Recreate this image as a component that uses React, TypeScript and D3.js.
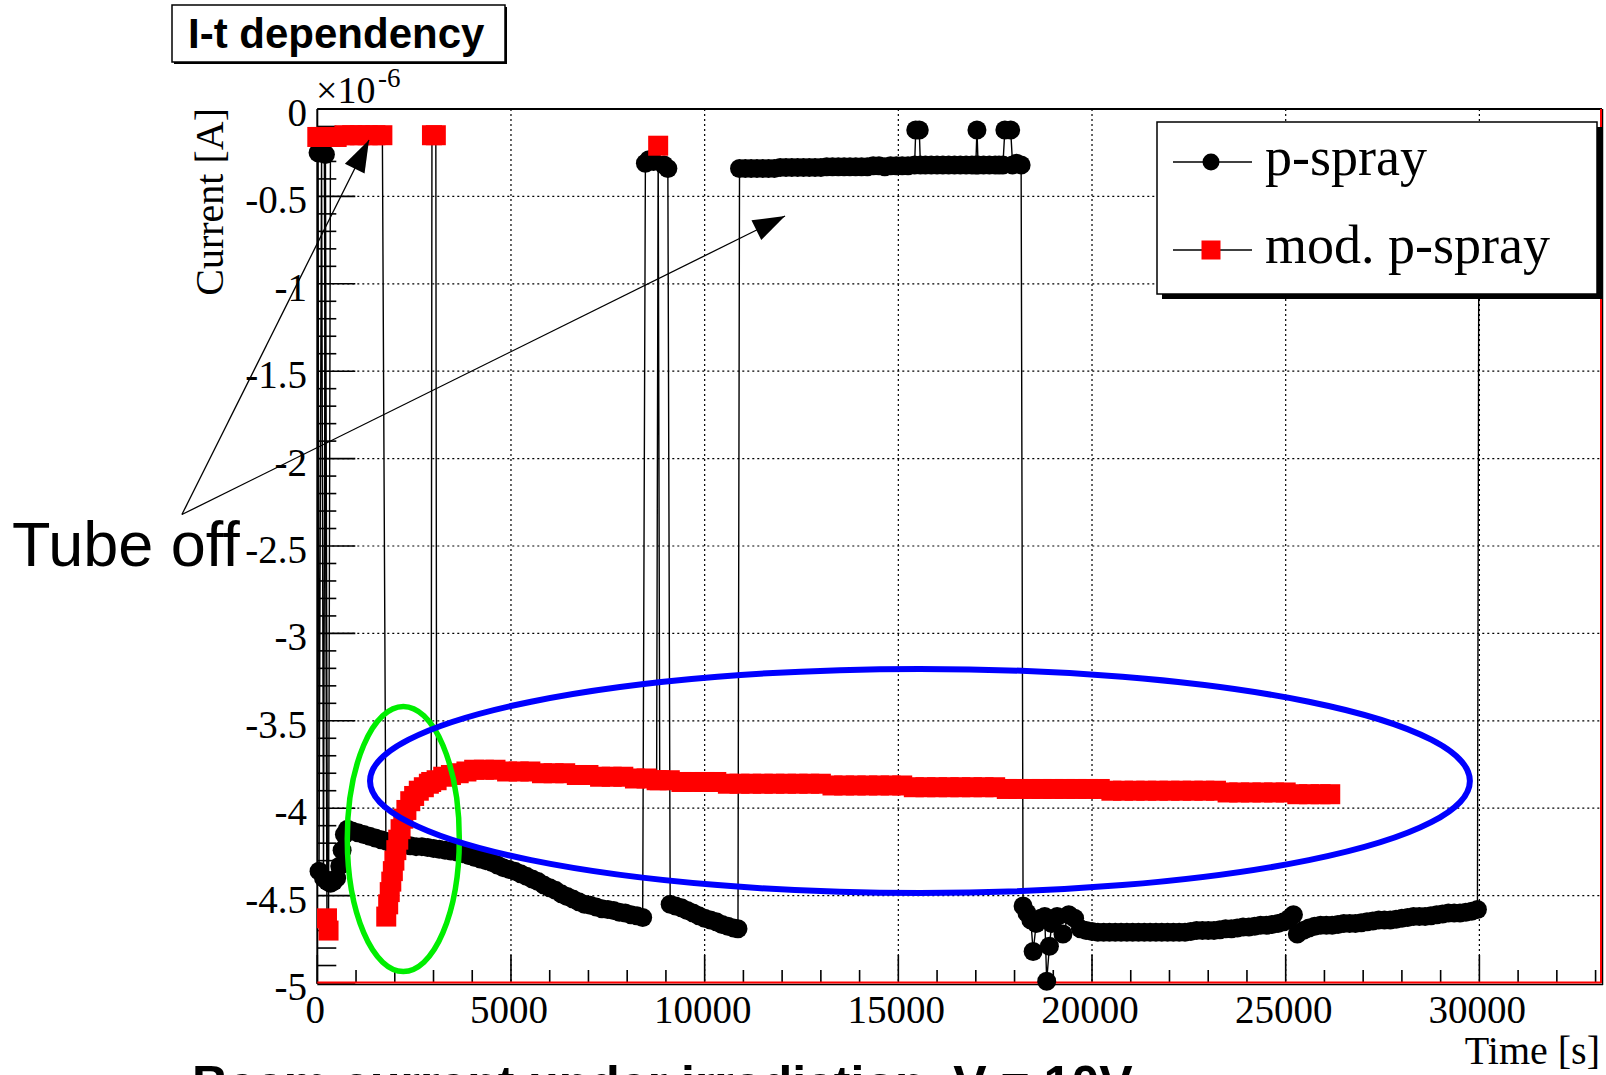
import React from "react";
import * as d3 from "d3";

const W = 1606;
const H = 1075;

// [time (s), current (x1e-6 A)]
const pSprayStart: [number, number][] = [
  [20, -0.25], [45, -4.36], [110, -0.25], [160, -4.4], [210, -0.26], [260, -4.42],
  [340, -4.43], [420, -4.42], [500, -4.4], [580, -4.33], [640, -4.24], [700, -4.15],
  [780, -4.12], [900, -4.13], [1050, -4.14], [1200, -4.15], [1350, -4.16], [1500, -4.17],
  [1650, -4.18], [1800, -4.19], [1950, -4.2], [2100, -4.205], [2250, -4.21], [2400, -4.215],
  [2550, -4.22], [2700, -4.22], [2850, -4.225], [3000, -4.23], [3150, -4.235], [3300, -4.24],
  [3450, -4.245], [3600, -4.25], [3750, -4.26], [3900, -4.27], [4050, -4.28], [4200, -4.29],
  [4350, -4.3], [4500, -4.31], [4650, -4.325], [4800, -4.34], [4950, -4.35], [5100, -4.36],
  [5250, -4.375], [5400, -4.39], [5550, -4.405], [5700, -4.42], [5850, -4.44], [6000, -4.455],
  [6150, -4.47], [6300, -4.49], [6450, -4.505], [6600, -4.52], [6750, -4.535], [6900, -4.55],
  [7050, -4.555], [7200, -4.565], [7350, -4.575], [7500, -4.58], [7650, -4.585], [7800, -4.595],
  [7950, -4.6], [8100, -4.61], [8250, -4.615], [8400, -4.625],
];

const pSprayMiddle: [number, number][] = [
  [8470, -0.31], [8560, -0.29], [8680, -0.3], [8950, -0.32], [9050, -0.34],
  [9110, -4.55], [9250, -4.56], [9400, -4.57], [9550, -4.585], [9700, -4.6], [9850, -4.615],
  [10000, -4.63], [10150, -4.64], [10300, -4.65], [10450, -4.665], [10600, -4.675], [10750, -4.685],
  [10860, -4.69],
  [10900, -0.34], [11050, -0.34], [11200, -0.34], [11350, -0.34], [11500, -0.34], [11650, -0.34],
  [11800, -0.34], [11950, -0.335], [12100, -0.335], [12250, -0.335], [12400, -0.335], [12550, -0.335],
  [12700, -0.335], [12850, -0.335], [13000, -0.335], [13150, -0.33], [13300, -0.33], [13450, -0.33],
  [13600, -0.33], [13750, -0.33], [13900, -0.33], [14050, -0.33], [14200, -0.33], [14350, -0.325],
  [14500, -0.325], [14650, -0.33], [14800, -0.325], [14950, -0.325], [15100, -0.325], [15250, -0.325],
  [15420, -0.32], [15450, -0.12], [15540, -0.12], [15570, -0.32], [15700, -0.32], [15850, -0.32],
  [16000, -0.32], [16150, -0.32], [16300, -0.32], [16450, -0.32], [16600, -0.32], [16750, -0.32],
  [16900, -0.32], [17000, -0.32], [17030, -0.12], [17060, -0.32], [17200, -0.32], [17350, -0.32],
  [17500, -0.32], [17600, -0.32], [17700, -0.32], [17750, -0.12], [17900, -0.12], [17950, -0.32],
  [18050, -0.31], [18170, -0.32],
];

const pSprayEnd: [number, number][] = [
  [18220, -4.56], [18320, -4.6], [18420, -4.64], [18480, -4.82], [18560, -4.66], [18680, -4.63],
  [18780, -4.62], [18830, -4.99], [18900, -4.79], [18960, -4.66], [19100, -4.62], [19250, -4.72],
  [19400, -4.61], [19550, -4.63], [19700, -4.69], [19850, -4.7], [20000, -4.705], [20150, -4.71],
  [20300, -4.71], [20450, -4.71], [20600, -4.71], [20750, -4.71], [20900, -4.71], [21050, -4.71],
  [21200, -4.71], [21350, -4.71], [21500, -4.71], [21650, -4.71], [21800, -4.71], [21950, -4.71],
  [22100, -4.71], [22250, -4.71], [22400, -4.71], [22550, -4.705], [22700, -4.7], [22850, -4.7],
  [23000, -4.7], [23150, -4.7], [23300, -4.695], [23450, -4.69], [23600, -4.69], [23750, -4.685],
  [23900, -4.68], [24050, -4.68], [24200, -4.675], [24350, -4.67], [24500, -4.67], [24650, -4.665],
  [24800, -4.66], [24950, -4.65], [25100, -4.63], [25200, -4.61], [25300, -4.72], [25450, -4.7],
  [25600, -4.685], [25750, -4.675], [25900, -4.67], [26050, -4.67], [26200, -4.67], [26350, -4.665],
  [26500, -4.66], [26650, -4.66], [26800, -4.66], [26950, -4.655], [27100, -4.65], [27250, -4.645],
  [27400, -4.64], [27550, -4.64], [27700, -4.64], [27850, -4.635], [28000, -4.63], [28150, -4.625],
  [28300, -4.62], [28450, -4.62], [28600, -4.62], [28750, -4.615], [28900, -4.61], [29050, -4.605],
  [29200, -4.6], [29350, -4.6], [29500, -4.6], [29650, -4.595], [29800, -4.59], [29950, -4.58],
  [29990, -0.3],
];

const modPSpray: [number, number][] = [
  [0, -0.16], [90, -0.16], [180, -0.16], [250, -4.63], [290, -4.7], [340, -0.16],
  [500, -0.16], [700, -0.15], [900, -0.15], [1100, -0.15], [1300, -0.15], [1500, -0.15],
  [1680, -0.15], [1780, -4.62], [1830, -4.55], [1870, -4.48], [1910, -4.42], [1950, -4.36],
  [1990, -4.3], [2040, -4.24], [2090, -4.18], [2150, -4.12], [2220, -4.06], [2300, -4.01],
  [2400, -3.96], [2500, -3.93], [2620, -3.9], [2750, -3.88], [2880, -3.86], [2940, -3.85],
  [2960, -0.15], [3060, -0.15], [3080, -3.84], [3250, -3.82], [3450, -3.81], [3650, -3.8],
  [3850, -3.79], [4050, -3.78], [4300, -3.78], [4600, -3.78], [4900, -3.79], [5200, -3.79],
  [5500, -3.79], [5800, -3.8], [6100, -3.8], [6400, -3.8], [6700, -3.81], [7000, -3.81],
  [7300, -3.82], [7600, -3.82], [7900, -3.82], [8200, -3.83], [8500, -3.83], [8760, -3.84],
  [8800, -0.21], [8840, -3.84], [9100, -3.84], [9400, -3.85], [9700, -3.85], [10000, -3.85],
  [10300, -3.85], [10600, -3.86], [10900, -3.86], [11200, -3.86], [11500, -3.86], [11800, -3.86],
  [12100, -3.86], [12400, -3.86], [12700, -3.86], [13000, -3.86], [13300, -3.87], [13600, -3.87],
  [13900, -3.87], [14200, -3.87], [14500, -3.87], [14800, -3.87], [15100, -3.87], [15400, -3.88],
  [15700, -3.88], [16000, -3.88], [16300, -3.88], [16600, -3.88], [16900, -3.88], [17200, -3.88],
  [17500, -3.88], [17800, -3.89], [18100, -3.89], [18400, -3.89], [18700, -3.89], [19000, -3.89],
  [19300, -3.89], [19600, -3.89], [19900, -3.89], [20200, -3.89], [20500, -3.9], [20800, -3.9],
  [21100, -3.9], [21400, -3.9], [21700, -3.9], [22000, -3.9], [22300, -3.9], [22600, -3.9],
  [22900, -3.9], [23200, -3.9], [23500, -3.91], [23800, -3.91], [24100, -3.91], [24400, -3.91],
  [24700, -3.91], [25000, -3.91], [25300, -3.92], [25600, -3.92], [25900, -3.92], [26150, -3.92],
];

const xMajorTicks = [0, 5000, 10000, 15000, 20000, 25000, 30000];
const yMajorTicks = [0, -0.5, -1, -1.5, -2, -2.5, -3, -3.5, -4, -4.5, -5];
const yTickLabels = ["0", "-0.5", "-1", "-1.5", "-2", "-2.5", "-3", "-3.5", "-4", "-4.5", "-5"];
const legendLabels = ["p-spray", "mod. p-spray"];

// annotations in data coordinates
const tubeOffFrom: [number, number] = [-3495, -2.32];
const tubeOffTips: [number, number][] = [[1335, -0.177], [12075, -0.612]];
const greenOval = { t: 2220, v: -4.176, rt: 1446, rv: 0.758 };
const blueOval = { t: 15558, v: -3.844, rt: 14197, rv: 0.641 };

const SERIF = "'Liberation Serif', 'Times New Roman', serif";
const SANS = "'Liberation Sans', Arial, sans-serif";

export default function App() {
  const left = 317.3, right = 1601, top = 109, bottom = 983;
  const x = d3.scaleLinear().domain([0, 33140]).range([left, right]);
  const y = d3.scaleLinear().domain([-5, 0]).range([bottom, top]);

  const pSpray = [...pSprayStart, ...pSprayMiddle, ...pSprayEnd];
  const line = d3.line<[number, number]>().x(d => x(d[0])).y(d => y(d[1]));
  const xMinor = d3.range(0, 33001, 1000).filter(t => t % 5000 !== 0);
  const yMinor = d3.range(1, 50).map(i => -i / 10).filter(v => Math.round(Math.abs(v * 10)) % 5 !== 0);

  const arrowHead = (from: [number, number], tip: [number, number]) => {
    const x0 = x(from[0]), y0 = y(from[1]), x1 = x(tip[0]), y1 = y(tip[1]);
    const a = Math.atan2(y1 - y0, x1 - x0);
    const L = 32, hw = 11;
    const bx = x1 - L * Math.cos(a), by = y1 - L * Math.sin(a);
    const px = -Math.sin(a) * hw, py = Math.cos(a) * hw;
    return `${x1},${y1} ${bx + px},${by + py} ${bx - px},${by - py}`;
  };

  const lx0 = 1157, ly0 = 122, lw = 440, lh = 172;

  return (
    <svg width={W} height={H} style={{ position: "absolute", left: 0, top: 0, background: "#fff" }}>
      <rect x={0} y={0} width={W} height={H} fill="#fff" />
      {/* grid */}
      <g stroke="#000" strokeWidth={1.2} strokeDasharray="2,3">
        {xMajorTicks.filter(t => t > 0).map(t => (
          <line key={"gx" + t} x1={x(t)} x2={x(t)} y1={top} y2={bottom} />
        ))}
        {yMajorTicks.filter(v => v < 0 && v > -5).map(v => (
          <line key={"gy" + v} x1={left} x2={right} y1={y(v)} y2={y(v)} />
        ))}
      </g>
      {/* ticks */}
      <g stroke="#000" strokeWidth={1.6}>
        {yMajorTicks.map(v => <line key={"ty" + v} x1={left} x2={left + 38} y1={y(v)} y2={y(v)} />)}
        {yMinor.map(v => <line key={"tym" + v} x1={left} x2={left + 19} y1={y(v)} y2={y(v)} />)}
        {xMajorTicks.map(t => <line key={"tx" + t} x1={x(t)} x2={x(t)} y1={bottom} y2={bottom - 28} />)}
        {xMinor.map(t => <line key={"txm" + t} x1={x(t)} x2={x(t)} y1={bottom} y2={bottom - 13} />)}
      </g>
      {/* frame */}
      <line x1={left} x2={right + 1} y1={top} y2={top} stroke="#000" strokeWidth={2} />
      <line x1={left} x2={left} y1={top} y2={bottom + 1} stroke="#000" strokeWidth={2} />
      <line x1={left} x2={right + 2} y1={bottom + 1.5} y2={bottom + 1.5} stroke="#000" strokeWidth={1.5} />
      <line x1={left} x2={right} y1={bottom - 0.5} y2={bottom - 0.5} stroke="#ff0000" strokeWidth={2} />
      <line x1={right + 1.5} x2={right + 1.5} y1={top} y2={bottom + 2} stroke="#000" strokeWidth={1.5} />
      <line x1={right} x2={right} y1={top} y2={bottom} stroke="#ff0000" strokeWidth={2} />

      {/* p-spray */}
      <path d={line(pSpray) || ""} fill="none" stroke="#000" strokeWidth={1.4} />
      <g fill="#000">
        {pSpray.map((d, i) => <circle key={"b" + i} cx={x(d[0])} cy={y(d[1])} r={9.5} />)}
      </g>
      {/* mod. p-spray */}
      <path d={line(modPSpray) || ""} fill="none" stroke="#000" strokeWidth={1.4} />
      <g fill="#ff0000">
        {modPSpray.map((d, i) => (
          <rect key={"r" + i} x={x(d[0]) - 10} y={y(d[1]) - 10} width={20} height={20} />
        ))}
      </g>

      {/* axis labels */}
      <g fontFamily={SERIF} fontSize={39} fill="#000">
        {yMajorTicks.map((v, i) => (
          <text key={"ly" + v} x={307} y={y(v) + 17} textAnchor="end">{yTickLabels[i]}</text>
        ))}
        {xMajorTicks.map(t => (
          <text key={"lx" + t} x={x(t) - 2} y={1023} textAnchor="middle">{t}</text>
        ))}
      </g>
      <text x={316} y={103} fontFamily={SERIF} fontSize={38}>×10</text>
      <text x={378} y={87} fontFamily={SERIF} fontSize={27}>-6</text>
      <text transform="translate(223,108) rotate(-90)" textAnchor="end" fontFamily={SERIF} fontSize={40}>Current [A]</text>
      <text x={1600} y={1064} textAnchor="end" fontFamily={SERIF} fontSize={40}>Time [s]</text>

      {/* title */}
      <rect x={174} y={7} width={333} height={57} fill="#000" />
      <rect x={172} y={5} width={333} height={57} fill="#fff" stroke="#000" strokeWidth={1.5} />
      <text x={188} y={48} fontFamily={SANS} fontWeight="bold" fontSize={42}>I-t dependency</text>

      {/* legend */}
      <rect x={lx0 + 5} y={ly0 + 5} width={lw} height={lh} fill="#000" />
      <rect x={lx0} y={ly0} width={lw} height={lh} fill="#fff" stroke="#000" strokeWidth={1.5} />
      {legendLabels.map((lab, i) => {
        const cy = ly0 + 40 + i * 88;
        return (
          <g key={lab}>
            <line x1={lx0 + 16} x2={lx0 + 95} y1={cy} y2={cy} stroke="#000" strokeWidth={1.4} />
            {i === 0
              ? <circle cx={lx0 + 54} cy={cy} r={8.5} fill="#000" />
              : <rect x={lx0 + 44.5} y={cy - 9.5} width={19} height={19} fill="#ff0000" />}
            <text x={lx0 + 108} y={cy + 13} fontFamily={SERIF} fontSize={54}>{lab}</text>
          </g>
        );
      })}

      {/* annotations */}
      {tubeOffTips.map((tip, i) => (
        <g key={"ar" + i}>
          <line x1={x(tubeOffFrom[0])} y1={y(tubeOffFrom[1])} x2={x(tip[0])} y2={y(tip[1])} stroke="#000" strokeWidth={1.3} />
          <polygon points={arrowHead(tubeOffFrom, tip)} fill="#000" />
        </g>
      ))}
      <text x={12} y={566} fontFamily={SANS} fontSize={63}>Tube off</text>
      <ellipse cx={x(greenOval.t)} cy={y(greenOval.v)} rx={x(greenOval.rt) - x(0)} ry={y(-greenOval.rv) - y(0)}
        fill="none" stroke="#00ee00" strokeWidth={5.5} />
      <ellipse cx={x(blueOval.t)} cy={y(blueOval.v)} rx={x(blueOval.rt) - x(0)} ry={y(-blueOval.rv) - y(0)}
        fill="none" stroke="#0000ff" strokeWidth={6} />

      <text x={192} y={1101} fontFamily={SANS} fontWeight="bold" fontSize={50}>Beam current under irradiation, V = 10V</text>
    </svg>
  );
}
